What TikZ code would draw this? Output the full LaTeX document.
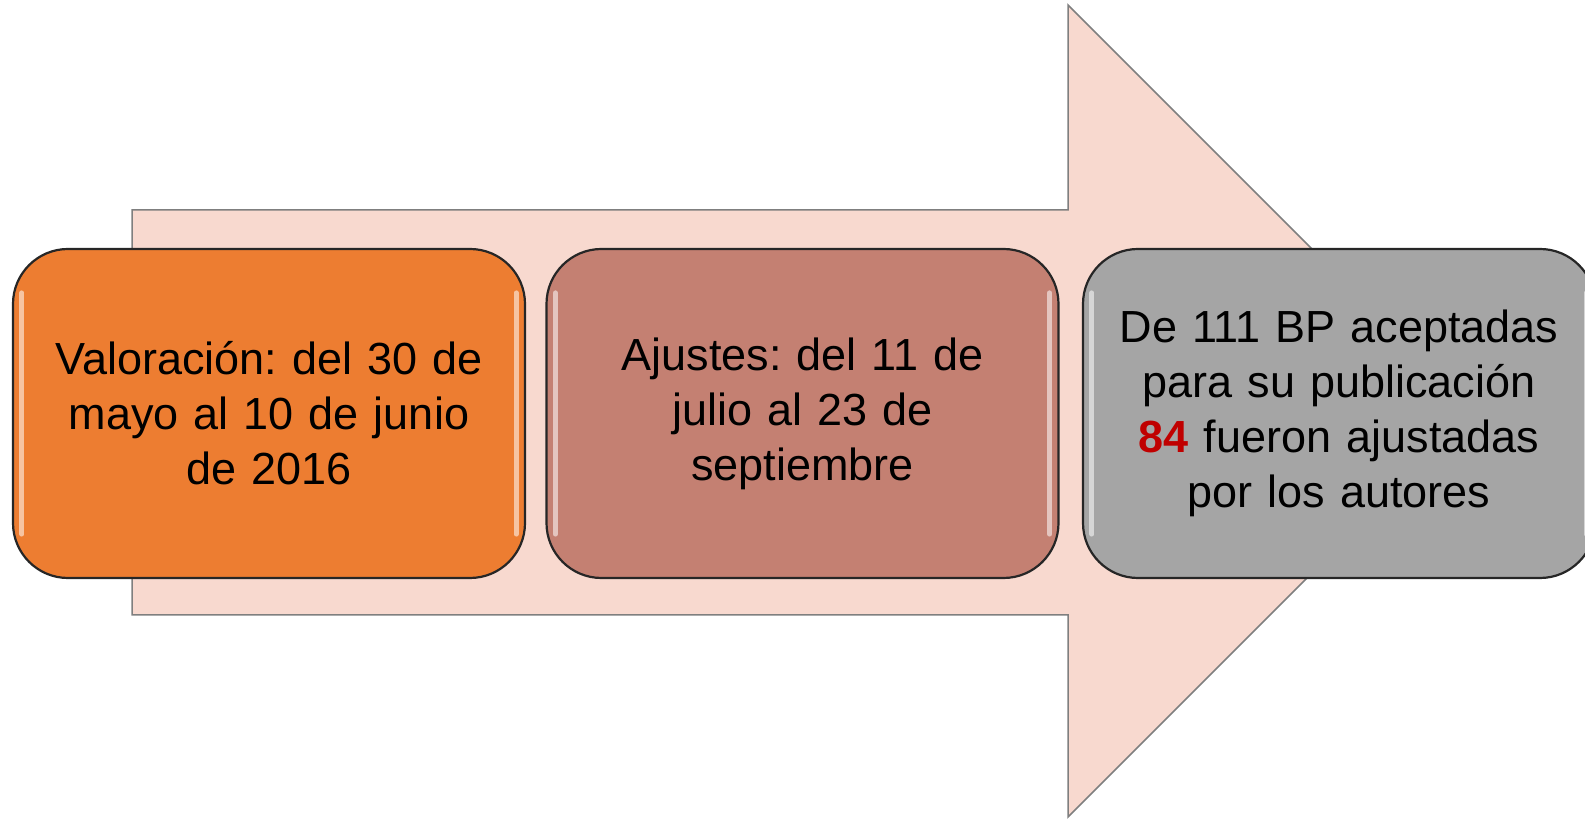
\documentclass[tikz,border=0pt]{standalone}
\usepackage{fontspec}
\setmainfont{Liberation Sans}
\usetikzlibrary{positioning}

\definecolor{arrowpink}{HTML}{F8D9CF}
\definecolor{arrowline}{HTML}{7F7F7F}
\definecolor{stepone}{HTML}{ED7D31}
\definecolor{steptwo}{HTML}{C48072}
\definecolor{stepthree}{HTML}{A5A5A5}
\definecolor{numred}{HTML}{C00000}

\tikzset{
  arrowbody/.style={fill=arrowpink,draw=arrowline,line width=1.5pt,line join=miter},
  stepbox/.style={draw=black!85,line width=2.2pt,rounded corners=55pt,
    minimum width=512pt,minimum height=329pt,text width=480pt,align=center,
    font=\fontsize{45}{55}\selectfont\frenchspacing},
  gloss/.style={white,opacity=0.55,line width=5pt,line cap=round}
}

\begin{document}
\begin{tikzpicture}[x=1pt,y=1pt]
\useasboundingbox (0,0) rectangle (1585,821);
\clip (0,0) rectangle (1585,821);
% big arrow behind the steps
\draw[arrowbody] (132,611) -- (1068,611) -- (1068,816) -- (1474,410)
  -- (1068,4) -- (1068,206) -- (132,206) -- cycle;
% the three steps
\node[stepbox,fill=stepone] (box1) at (269,407.5) {Valoración: del 30 de\\ mayo al 10 de junio\\ de 2016};
\node[stepbox,fill=steptwo] (box2) at (802.5,407.5) {Ajustes: del 11 de\\ julio al 23 de\\ septiembre};
\node[stepbox,fill=stepthree] (box3) at (1339,407.5) {De 111 BP aceptadas\\ para su publicación\\ {\bfseries\color{numred}84} fueron ajustadas\\ por los autores};
% glossy edges
\foreach \b in {box1,box2,box3} {
  \draw[gloss] ([shift={(10,-45)}]\b.north west) -- ([shift={(10,45)}]\b.south west);
  \draw[gloss] ([shift={(-10,-45)}]\b.north east) -- ([shift={(-10,45)}]\b.south east);
}
\end{tikzpicture}
\end{document}
